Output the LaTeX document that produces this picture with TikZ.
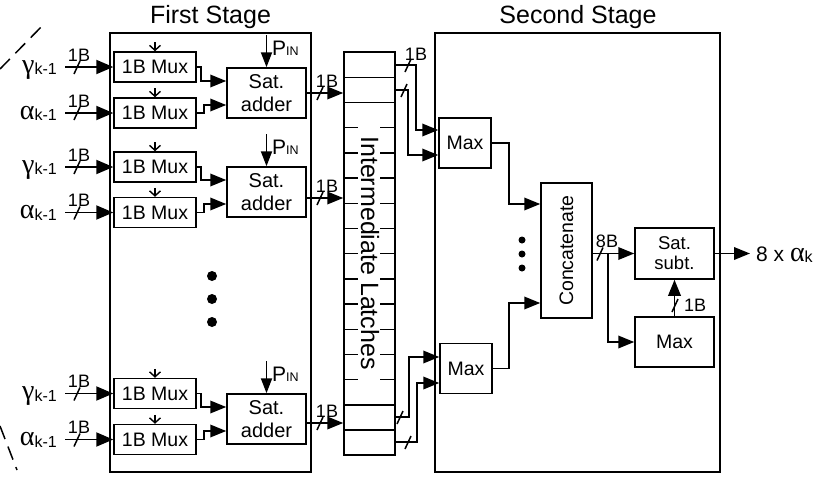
\documentclass[tikz,border=0pt]{standalone}
\usepackage{fontspec}
\setmainfont{Liberation Sans}
\newfontfamily\grk{Liberation Serif}
\usetikzlibrary{arrows.meta}
\newcommand\mysl[2]{\draw[slashl] ({#1-3},{#2+7}) -- ({#1+3},{#2-6});}
\begin{document}
\begin{tikzpicture}[x=1pt,y=-1pt,
  box/.style={draw,line width=1.5pt,inner sep=0pt,align=center,font=\fontsize{19.5}{22}\selectfont},
  mux/.style={box,minimum width=82pt,minimum height=30pt},
  adder/.style={box,minimum width=79pt,minimum height=50pt,font=\fontsize{20}{23}\selectfont},
  maxb/.style={box,minimum width=52pt,minimum height=50pt},
  stage/.style={draw,line width=1.5pt,inner sep=0pt},
  ttl/.style={inner sep=0pt,font=\fontsize{25}{25}\selectfont},
  lbl/.style={inner sep=0pt,font=\fontsize{18}{18}\selectfont},
  inl/.style={inner sep=0pt,font=\fontsize{16}{16}\selectfont},
  wire/.style={line width=1.9pt},
  arr/.style={wire,-{Triangle[length=16pt,width=12.5pt]}},
  iarr/.style={wire,-{Triangle[length=17pt,width=14pt]}},
  parr/.style={wire,-{Triangle[length=15pt,width=11pt]}},
  ctl/.style={line width=1.4pt,-{Straight Barb[length=5pt,width=11pt]}},
  slashl/.style={line width=1.5pt},
  thin/.style={line width=1.4pt},
  dashl/.style={line width=1.5pt,dash pattern=on 14pt off 8pt}
]
\useasboundingbox (0,0) rectangle (825,477);

% stage boxes and titles
\node[stage,minimum width=201pt,minimum height=439pt] (S1) at (210.5,252.5) {};
\node[stage,minimum width=285pt,minimum height=439pt] (S2) at (577.5,252.5) {};
\node[ttl] (T1) at (210.5,17) {First Stage};
\node[ttl] (T2) at (578,17) {Second Stage};

% dashed brace-like lines
\draw[dashl] (0,69) -- (46,22);
\draw[dashl] (0,426) -- (17,470);

% inputs and muxes
\foreach \i/\y/\g in {1/67/γ,2/113/α,3/167/γ,4/212.5/α,5/393.5/γ,6/439.5/α}{
  \node[mux] (m\i) at (155,\y) {1B Mux};
  \node[inl,anchor=base east] (g\i) at (57,\y+6) {{\fontsize{28}{28}\selectfont\grk \g}\raisebox{-1.5pt}{k-1}};
  \coordinate (i\i) at (65,\y);
  \draw[iarr] (i\i) -- (m\i.west);
  \mysl{77}{\y}
  \node[lbl] (b\i) at (79,\y-12) {1B};
  \draw[ctl] ([yshift=9pt]m\i.north) -- (m\i.north);
}

% latch column
\node[draw,line width=1.5pt,minimum width=51pt,minimum height=403pt,inner sep=0pt] (L) at (369.5,253.5) {};
\foreach \yy in {77.2,102.4,404.8,430}{\draw[thin] (344,\yy) -- (395,\yy);}
\foreach \k in {3,...,13}{\draw[thin] (344,52+25.2*\k) -- (358,52+25.2*\k); \draw[thin] (380,52+25.2*\k) -- (395,52+25.2*\k);}
\node[rotate=-90,inner sep=0pt,font=\fontsize{25}{25}\selectfont] (LT) at (370,253) {Intermediate Latches};

% adders
\foreach \k/\u/\l/\cy/\oy in {1/1/2/93/0,2/3/4/192/-6,3/5/6/419/-4}{
  \node[adder] (a\k) at (266.5,\cy) {Sat.\\adder};
  \draw[arr] (m\u.east) -- ++(4,0) |- ([yshift=12pt]a\k.west);
  \draw[arr] (m\l.east) -- ++(7,0) |- ([yshift=-12pt]a\k.west);
  \coordinate (pt\k) at ([yshift=32pt]a\k.north);
  \draw[parr] (pt\k) -- (a\k.north);
  \node[anchor=base west,inner sep=0pt,font=\fontsize{21}{21}\selectfont] (p\k) at (272,\cy-38) {P{\fontsize{12.5}{12.5}\selectfont IN}};
  \coordinate (ao\k) at ([yshift=\oy pt]a\k.east);
  \draw[arr] (ao\k) -- (ao\k -| L.west);
  \mysl{320}{\cy-\oy}
  \node[lbl] (ob\k) at (327,\cy-\oy-12) {1B};
}

% first stage dots
\foreach \yy in {276,299,322}{\fill (212,\yy) circle (5pt);}

% second stage
\node[maxb] (mx1) at (465,143) {Max};
\node[maxb] (mx2) at (466,368.5) {Max};
\node[box,minimum width=51pt,minimum height=135pt] (cc) at (566.5,250.5) {};
\node[rotate=90,inner sep=0pt,font=\fontsize{19.5}{20}\selectfont] (cct) at (cc.center) {Concatenate};
\node[box,minimum width=79pt,minimum height=51pt,font=\fontsize{18.5}{20}\selectfont] (ss) at (674.5,253.5) {Sat.\\subt.};
\node[box,minimum width=79pt,minimum height=50pt] (mx3) at (674.5,342) {Max};

\coordinate (lo1) at (395,65);
\coordinate (lo2) at (395,90);
\coordinate (lo3) at (395,417);
\coordinate (lo4) at (395,442);
\draw[arr] (lo1) -| ([xshift=-22pt,yshift=13pt]mx1.west) -- ([yshift=13pt]mx1.west);
\draw[arr] (lo2) -| ([xshift=-30pt,yshift=-12pt]mx1.west) -- ([yshift=-12pt]mx1.west);
\draw[arr] (lo3) -| ([xshift=-30pt,yshift=11.5pt]mx2.west) -- ([yshift=11.5pt]mx2.west);
\draw[arr] (lo4) -| ([xshift=-22pt,yshift=-14.5pt]mx2.west) -- ([yshift=-14.5pt]mx2.west);
\mysl{408}{65}
\mysl{404}{90}
\mysl{400}{417}
\mysl{408}{442}
\node[lbl] (lb1) at (416,54) {1B};

\draw[arr] (mx1.east) -| ([xshift=-31pt,yshift=46.5pt]cc.west) -- ([yshift=46.5pt]cc.west);
\draw[arr] (mx2.east) -| ([xshift=-31pt,yshift=-52.5pt]cc.west) -- ([yshift=-52.5pt]cc.west);
\foreach \yy in {240,254,268}{\fill (522,\yy) circle (3.5pt);}

\coordinate (co) at (cc.east |- ss.west);
\draw[arr] (co) -- (ss.west);
\coordinate (br) at (608,253.5);
\draw[arr] (br) |- (mx3.west);
\mysl{600}{253.5}
\node[lbl] (lb8) at (607,241) {8B};

\draw[arr] (mx3.north) -- (ss.south);
\mysl{675}{305}
\node[lbl,anchor=west] (lbm) at (684,305) {1B};

\coordinate (out) at (750,253.5);
\draw[arr] (ss.east) -- (out);
\node[anchor=base west,inner sep=0pt,font=\fontsize{21}{21}\selectfont] (olab) at (756,261) {8 x {\fontsize{28}{28}\selectfont\grk α}{\fontsize{16}{16}\selectfont\raisebox{-1.5pt}{k}}};
\end{tikzpicture}
\end{document}
